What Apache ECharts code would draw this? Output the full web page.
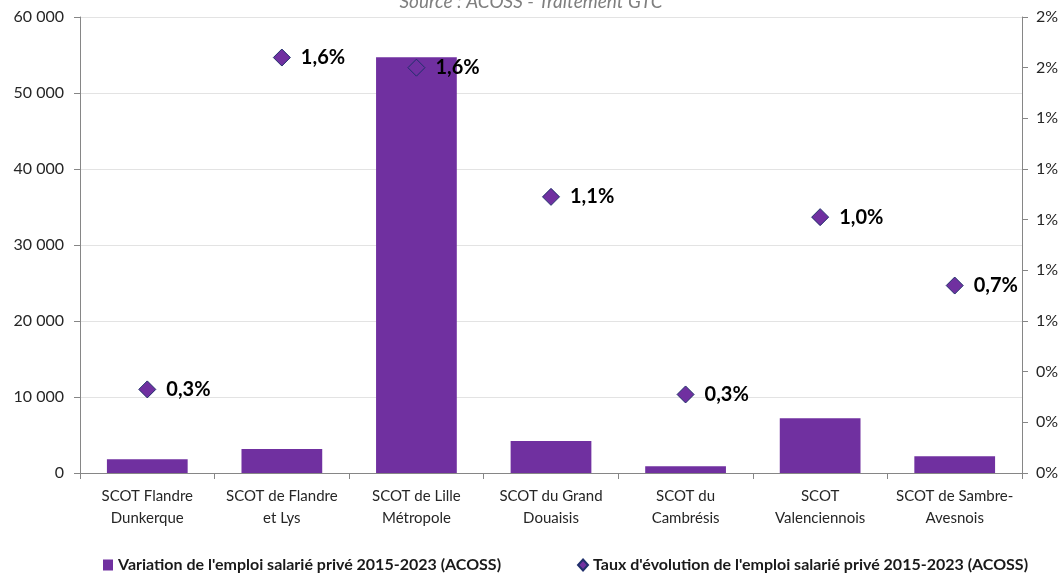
<!DOCTYPE html>
<html>
<head>
<meta charset="utf-8">
<script src="https://cdn.jsdelivr.net/npm/echarts@6/dist/echarts.min.js"></script>
<style>
  html, body { margin: 0; padding: 0; background: #fff; }
  #chart { width: 1062px; height: 585px; }
</style>
</head>
<body>
<div id="chart"></div>
<script>
// données
var territoires = ['SCOT Flandre\nDunkerque', 'SCOT de Flandre\net Lys', 'SCOT de Lille\nMétropole',
  'SCOT du Grand\nDouaisis', 'SCOT du\nCambrésis', 'SCOT\nValenciennois', 'SCOT de Sambre-\nAvesnois'];
var variationEmploi = [1800, 3150, 54700, 4200, 900, 7200, 2200];
var tauxEvolution = [0.33, 1.64, 1.60, 1.09, 0.31, 1.01, 0.74];
var nomBarres = "Variation de l'emploi salarié privé 2015-2023 (ACOSS)";
var nomTaux = "Taux d'évolution de l'emploi salarié privé 2015-2023 (ACOSS)";

var violet = '#7030A0';
var police = 'Lato';

var chart = echarts.init(document.getElementById('chart'));
var option = {
  animation: false,
  backgroundColor: '#FFFFFF',
  textStyle: { fontFamily: police },
  title: {
    text: 'Source : ACOSS - Traitement GTC',
    left: 'center',
    top: -13,
    textStyle: { fontSize: 19, fontStyle: 'italic', fontWeight: 'normal', color: '#7f7f7f', fontFamily: police }
  },
  legend: {
    bottom: 7,
    left: 98,
    itemGap: 76,
    itemWidth: 10,
    itemHeight: 11,
    textStyle: { fontSize: 16, fontWeight: 'bold', color: '#1a1a1a', fontFamily: police },
    data: [
      { name: nomBarres, icon: 'rect' },
      { name: nomTaux, icon: 'diamond' }
    ]
  },
  grid: { left: 80, right: 40, top: 17, bottom: 112 },
  xAxis: {
    type: 'category',
    data: territoires,
    axisLine: { lineStyle: { color: '#868686' } },
    axisTick: { show: true, length: 6, lineStyle: { color: '#868686' } },
    axisLabel: { fontSize: 15, color: '#262626', margin: 12, lineHeight: 22, interval: 0 }
  },
  yAxis: [{
    type: 'value',
    min: 0, max: 60000, interval: 10000,
    axisLine: { show: true, lineStyle: { color: '#868686' } },
    axisTick: { show: true, length: 6, lineStyle: { color: '#868686' } },
    splitLine: { lineStyle: { color: '#e3e3e3' } },
    axisLabel: {
      fontSize: 16, color: '#262626', margin: 16,
      formatter: function (v) { return String(v).replace(/\B(?=(\d{3})+(?!\d))/g, ' '); }
    }
  }, {
    type: 'value',
    min: 0, max: 1.8, interval: 0.2,
    axisLine: { show: true, lineStyle: { color: '#868686' } },
    axisTick: { show: true, length: 6, lineStyle: { color: '#868686' } },
    splitLine: { show: false },
    axisLabel: {
      fontSize: 16, color: '#262626', margin: 14,
      formatter: function (v) { return Math.round(v) + '%'; }
    }
  }],
  series: [{
    name: nomBarres,
    type: 'bar',
    data: variationEmploi,
    barWidth: '60%',
    itemStyle: { color: violet }
  }, {
    name: nomTaux,
    type: 'scatter',
    yAxisIndex: 1,
    data: tauxEvolution,
    symbol: 'diamond',
    symbolSize: 17,
    itemStyle: { color: violet, opacity: 1, borderColor: '#1f2f6b', borderWidth: 1 },
    label: {
      show: true,
      position: 'right',
      distance: 10,
      fontSize: 20,
      fontWeight: 'bold',
      color: '#000',
      fontFamily: police,
      formatter: function (p) { return p.value.toFixed(1).replace('.', ',') + '%'; }
    }
  }]
};
chart.setOption(option);
</script>
</body>
</html>
